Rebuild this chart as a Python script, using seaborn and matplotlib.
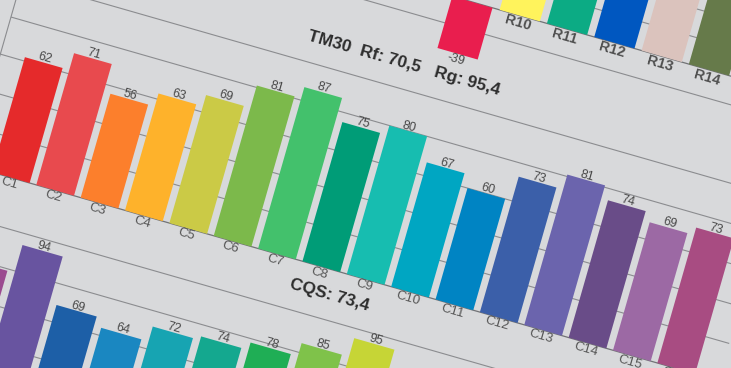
import matplotlib
matplotlib.use("Agg")
import matplotlib.pyplot as plt
from matplotlib.transforms import Affine2D
import pandas as pd
import seaborn as sns

# the reference is a tilted screenshot, so every panel is drawn flat and then turned
ANGLE = 16.0
BG = "#d8d9db"
GRID = "#8b8c8f"
BASE = "#727376"

# TM30 hue bins
tm30_labels = ["C1", "C2", "C3", "C4", "C5", "C6", "C7", "C8",
               "C9", "C10", "C11", "C12", "C13", "C14", "C15", "C16"]
tm30_values = [62, 71, 56, 63, 69, 81, 87, 75, 80, 67, 60, 73, 81, 74, 69, 73]
tm30_colors = ["#e52a2b", "#e84a4e", "#fc7f2c", "#feb22b", "#cbca46", "#7cb94b",
               "#43c16c", "#009c77", "#17bdb0", "#00a6c2", "#0084c3", "#3b5fa9",
               "#6b64ad", "#694c88", "#9c69a4", "#a84c82"]

# CQS samples (only the visible ones have values)
cqs_order = ["VS%d" % i for i in range(1, 16)]
cqs_labels = ["VS1", "VS2", "VS3", "VS4", "VS5", "VS6", "VS7", "VS8", "VS9"]
cqs_values = [79, 94, 69, 64, 72, 74, 78, 85, 95]
cqs_colors = ["#9b4b90", "#6854a0", "#1d5fa7", "#1a87c1", "#17a4b2",
              "#14a88f", "#1fae55", "#7fc24a", "#c6d536"]

# CRI special indices (top strip, mostly cut off)
cri_order = ["R%d" % i for i in range(1, 16)]
cri_labels = ["R9", "R10", "R11", "R12", "R13", "R14"]
cri_values = [-39, 48, 56, 44, 72, 88]
cri_colors = ["#e91e4e", "#fff35c", "#0cab84", "#0057c0", "#dbc3bd", "#667a4a"]

sns.set_theme(style="white")
plt.rcParams["font.family"] = ["Liberation Sans", "DejaVu Sans"]

W, H = 731, 368
fig = plt.figure(figsize=(W / 100, H / 100), dpi=100, facecolor=BG)

# pixel where C1 sits on the TM30 baseline, everything turns around it
ox, oy = 10.8, H - 177.6
rot = Affine2D().rotate_deg_around(ox, oy, -ANGLE)
span = 738.4
left = ox - 23.1


def panel(order, labels, values, colors, base, scale, ylim, grid):
    y0, y1 = ylim
    n = len(order)
    bottom = oy + base + scale * y0
    ax = fig.add_axes([left / W, bottom / H, span / W, scale * (y1 - y0) / H])
    df = pd.DataFrame({"cat": labels, "val": values})
    sns.barplot(data=df, x="cat", y="val", hue="cat", order=order, hue_order=labels,
                palette=dict(zip(labels, colors)), saturation=1, width=0.85,
                linewidth=0, errorbar=None, legend=False, ax=ax)
    ax.set_xlim(-0.5, n - 0.5)
    ax.set_ylim(y0, y1)
    ax.set_axis_off()
    axis_x = -0.5 - 21.0 / (span / n)
    ax.hlines(grid, axis_x, n - 1 - axis_x, color=GRID, lw=0.8, zorder=0.5)
    ax.hlines(0, axis_x, n - 1 - axis_x, color=BASE, lw=0.9, zorder=0.6)
    ax.vlines(axis_x, y0, y1, color=GRID, lw=0.8, zorder=0.5)
    return ax


def tilt(ax):
    for p in ax.patches:
        p.set_transform(p.get_data_transform() + rot)
        p.set_clip_on(False)
    for a in list(ax.collections) + list(ax.lines) + list(ax.texts):
        a.set_transform(a.get_transform() + rot)
        a.set_clip_on(False)


txt = dict(rotation=-ANGLE, rotation_mode="anchor", ha="center")
val_kw = dict(fontsize=9, color="#484848")
cat_kw = dict(fontsize=9.5, color="#555555")
r_kw = dict(fontsize=10.5, fontweight="bold", color="#505050")

# middle: TM30
ax1 = panel(tm30_labels, tm30_labels, tm30_values, tm30_colors, 0, 1.93, (0, 100),
            [20, 40, 60, 80, 100])
for i, (name, v) in enumerate(zip(tm30_labels, tm30_values)):
    ax1.text(i, v + 0.7, str(v), va="baseline", **val_kw, **txt)
    ax1.text(i, -0.3, name, va="top", **cat_kw, **txt)
ax1.text(7.5, 113, "TM30  Rf: 70,5   Rg: 95,4", va="center", fontsize=12.5,
         fontweight="bold", color="#2d2d2d", **txt)
tilt(ax1)

# bottom: CQS
ax2 = panel(cqs_order, cqs_labels, cqs_values, cqs_colors, -243, 1.93, (0, 100),
            [20, 40, 60, 80, 100])
for name, v in zip(cqs_labels, cqs_values):
    i = cqs_order.index(name)
    ax2.text(i, v + 0.7, str(v), va="baseline", **val_kw, **txt)
    ax2.text(i, -0.3, name, va="top", **cat_kw, **txt)
ax2.text(6.85, 113, "CQS: 73,4", va="center", fontsize=12.5, fontweight="bold",
         color="#2d2d2d", **txt)
tilt(ax2)

# top: CRI
ax3 = panel(cri_order, cri_labels, cri_values, cri_colors, 296, 1.38, (-20, 100),
            [-20, 20, 40, 60, 80, 100])
for name, v in zip(cri_labels, cri_values):
    i = cri_order.index(name)
    if v < 0:
        ax3.text(i, v - 0.3, str(v), va="top", **val_kw, **txt)
        ax3.text(i, 0.5, name, va="bottom", **r_kw, **txt)
    else:
        ax3.text(i, v + 1.0, str(v), va="baseline", **val_kw, **txt)
        ax3.text(i, -0.6, name, va="top", **r_kw, **txt)
tilt(ax3)

fig.savefig("out.png", dpi=100, facecolor=BG)
